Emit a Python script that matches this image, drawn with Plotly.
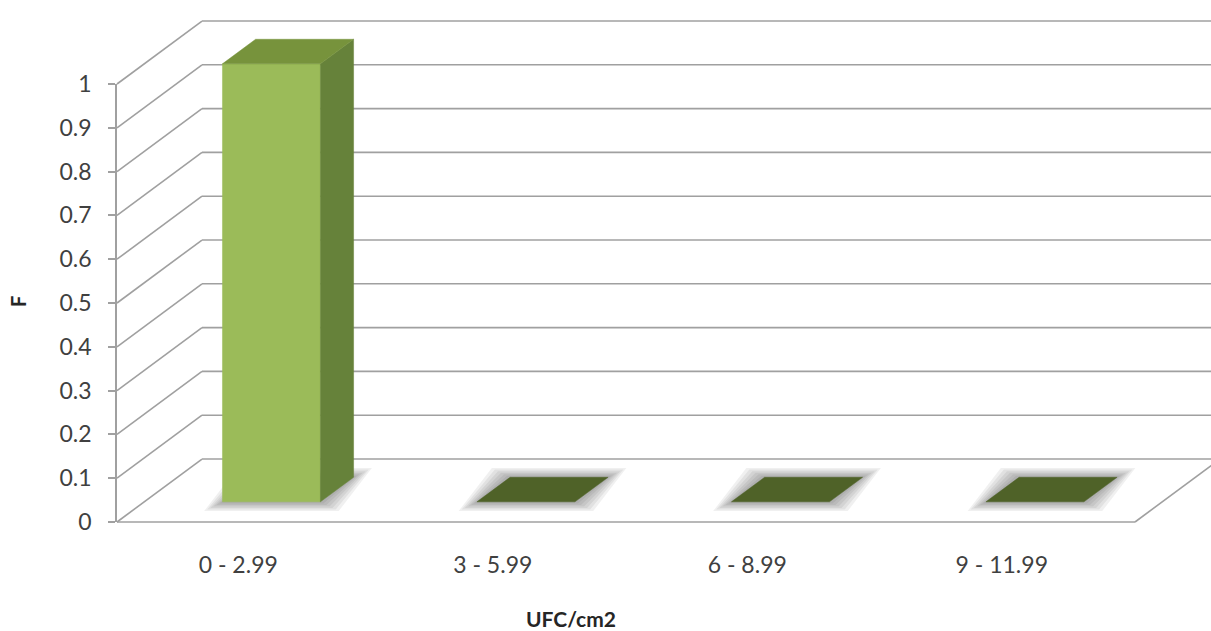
import plotly.graph_objects as go

# ---- data -------------------------------------------------------------
categories = ["0 - 2.99", "3 - 5.99", "6 - 8.99", "9 - 11.99"]
frequencies = [1, 0, 0, 0]
y_ticks = [0, 0.1, 0.2, 0.3, 0.4, 0.5, 0.6, 0.7, 0.8, 0.9, 1]
y_tick_labels = ["0", "0.1", "0.2", "0.3", "0.4", "0.5", "0.6", "0.7", "0.8", "0.9", "1"]
x_title = "UFC/cm2"
y_title = "F"

# ---- oblique 3-D projection (depth d in [0, 1]) -------------------------
DEPTH_X = 0.334    # horizontal shift per unit depth, in category units
DEPTH_Y = 0.1438   # vertical shift per unit depth, in value units
BAR_WIDTH = 0.385
BAR_FRONT, BAR_BACK = 0.32, 0.71
N = len(categories)
V_MAX = y_ticks[-1]

GRID = "#a0a0a0"
FACE_FRONT = "#9bbb59"
FACE_SIDE = "#66823a"
FACE_TOP = "#77933c"
FACE_FLAT = "#4f6228"
TEXT = "#404040"
FONT = "Lato"


def proj(x, v, d):
    return x + d * DEPTH_X, v + d * DEPTH_Y


def poly(points):
    xs, ys = [], []
    for x, v, d in points:
        px, py = proj(x, v, d)
        xs.append(px)
        ys.append(py)
    xs.append(xs[0])
    ys.append(ys[0])
    return xs, ys


fig = go.Figure()

# walls: back-wall gridlines, side-wall diagonals and floor outline
gx, gy = [], []
for t in y_ticks:
    for a, b in (((0, t, 1), (N + DEPTH_X * 2, t, 1)), ((0, t, 0), (0, t, 1))):
        p, q = proj(*a), proj(*b)
        gx += [p[0], q[0], None]
        gy += [p[1], q[1], None]
for a, b in (((0, 0, 0), (N, 0, 0)), ((N, 0, 0), (N, 0, 1))):
    p, q = proj(*a), proj(*b)
    gx += [p[0], q[0], None]
    gy += [p[1], q[1], None]
fig.add_trace(go.Scatter(x=gx, y=gy, mode="lines",
                         line=dict(color=GRID, width=1.6),
                         hoverinfo="skip", showlegend=False))

# soft shadows under the bars
for i, val in enumerate(frequencies):
    x0 = i + 0.5 - BAR_WIDTH / 2
    x1 = i + 0.5 + BAR_WIDTH / 2
    for k in range(1, 7):
        ex = 0.012 * k
        ev = 0.0035 * k
        xs, ys = poly([(x0 - ex, -ev, BAR_FRONT), (x1 + ex, -ev, BAR_FRONT),
                       (x1 + ex, ev, BAR_BACK), (x0 - ex, ev, BAR_BACK)])
        fig.add_trace(go.Scatter(x=xs, y=ys, mode="lines", fill="toself",
                                 fillcolor="rgba(0,0,0,0.06)",
                                 line=dict(width=0), hoverinfo="skip",
                                 showlegend=False))

# bars
for i, val in enumerate(frequencies):
    x0 = i + 0.5 - BAR_WIDTH / 2
    x1 = i + 0.5 + BAR_WIDTH / 2
    faces = []
    if val > 0:
        faces.append(([(x0, 0, BAR_FRONT), (x1, 0, BAR_FRONT),
                       (x1, val, BAR_FRONT), (x0, val, BAR_FRONT)], FACE_FRONT))
        faces.append(([(x1, 0, BAR_FRONT), (x1, 0, BAR_BACK),
                       (x1, val, BAR_BACK), (x1, val, BAR_FRONT)], FACE_SIDE))
    faces.append(([(x0, val, BAR_FRONT), (x1, val, BAR_FRONT),
                   (x1, val, BAR_BACK), (x0, val, BAR_BACK)],
                  FACE_TOP if val > 0 else FACE_FLAT))
    for pts, col in faces:
        xs, ys = poly(pts)
        fig.add_trace(go.Scatter(x=xs, y=ys, mode="lines", fill="toself",
                                 fillcolor=col, line=dict(color=col, width=0.5),
                                 hoverinfo="skip", showlegend=False))

# front-plane axes that carry the tick labels
fig.add_trace(go.Scatter(x=[i + 0.5 for i in range(N)], y=frequencies,
                         mode="markers", marker=dict(opacity=0),
                         xaxis="x2", yaxis="y2",
                         hoverinfo="skip", showlegend=False))

# ---- layout -----------------------------------------------------------
W, H = 1211, 631
LEFT, RIGHT_FRONT, BOTTOM, TOP = 117, 1135, 522, 84   # front plane in px
px_per_cat = (RIGHT_FRONT - LEFT) / N
px_per_val = (BOTTOM - TOP) / V_MAX

fig.update_layout(
    width=W, height=H,
    margin=dict(l=0, r=0, t=0, b=0, autoexpand=False),
    paper_bgcolor="white",
    plot_bgcolor="rgba(0,0,0,0)",
    showlegend=False,
    xaxis=dict(range=[-LEFT / px_per_cat, (W - LEFT) / px_per_cat],
               visible=False, fixedrange=True, domain=[0, 1],
               automargin=False),
    yaxis=dict(range=[-(H - BOTTOM) / px_per_val, BOTTOM / px_per_val],
               visible=False, fixedrange=True, domain=[0, 1],
               automargin=False),
    xaxis2=dict(range=[0, N], domain=[LEFT / W, RIGHT_FRONT / W],
                anchor="y2", showline=False, showgrid=False, zeroline=False,
                tickvals=[i + 0.5 for i in range(N)], ticktext=categories,
                ticks="", ticklabelstandoff=27, ticklabelshift=-6,
                tickfont=dict(family=FONT, size=23, color=TEXT),
                fixedrange=True, automargin=False),
    yaxis2=dict(range=[0, V_MAX], domain=[(H - BOTTOM) / H, (H - TOP) / H],
                anchor="x2", showline=True, linecolor=GRID, linewidth=1.6,
                ticks="outside", ticklen=7, tickcolor=GRID, tickwidth=1.6,
                showgrid=False, zeroline=False,
                tickvals=y_ticks, ticktext=y_tick_labels,
                ticklabelstandoff=12,
                tickfont=dict(family=FONT, size=23, color=TEXT),
                fixedrange=True, automargin=False),
    annotations=[
        dict(text="<b>" + y_title + "</b>", xref="paper", yref="paper",
             x=18 / W, y=1 - 302 / H, xanchor="center", yanchor="middle",
             showarrow=False, textangle=-90,
             font=dict(family=FONT, size=20, color="#262626")),
        dict(text="<b>" + x_title + "</b>", xref="paper", yref="paper",
             x=571 / W, y=1 - 618 / H, xanchor="center", yanchor="middle",
             showarrow=False,
             font=dict(family=FONT, size=21, color="#262626")),
    ],
)

fig.write_html("out.html")
